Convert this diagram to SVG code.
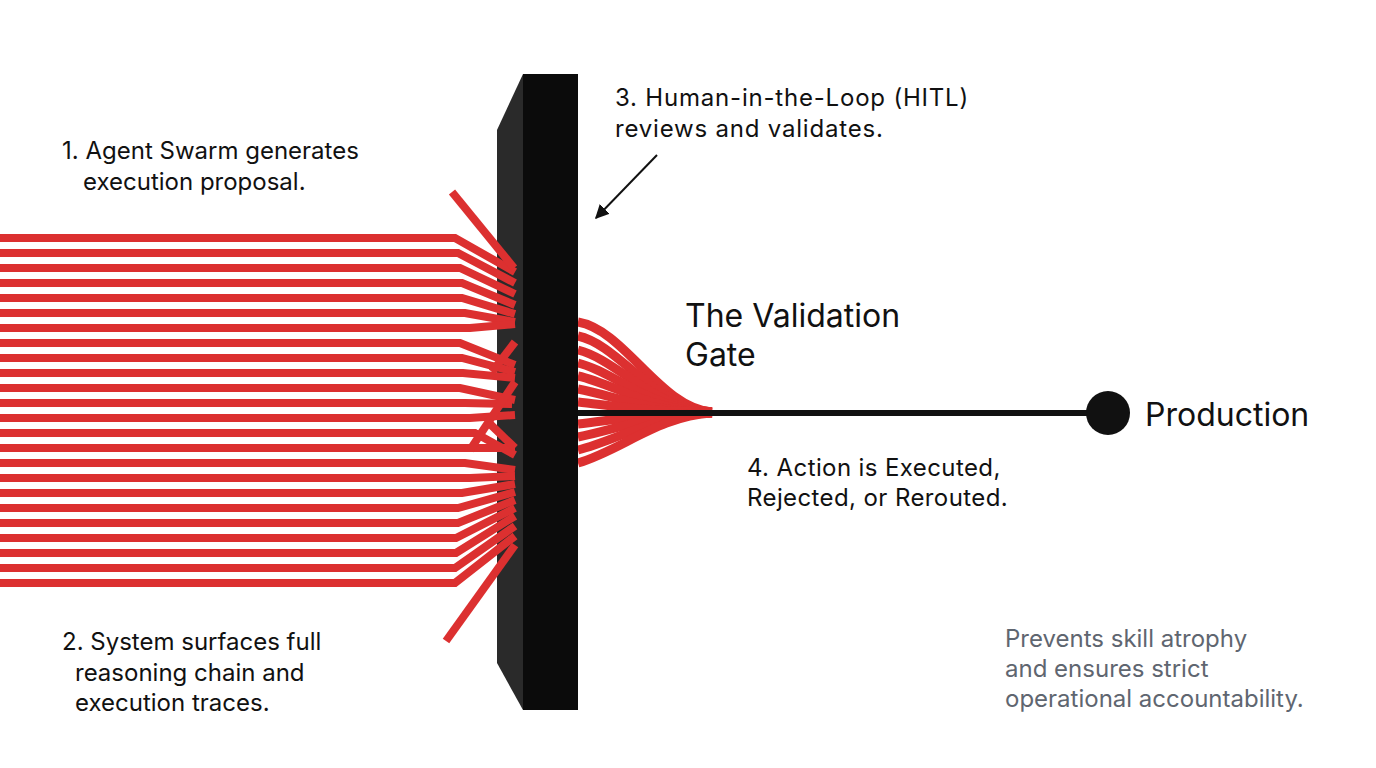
<svg xmlns="http://www.w3.org/2000/svg" width="1376" height="768" viewBox="0 0 1376 768">
<style>
text{font-family:Inter,"Noto Sans","Liberation Sans",sans-serif;fill:#111}
.t{font-size:24px}
.h{font-size:32px}
.g{font-size:24px;fill:#5f6670}
.r{fill:none;stroke:#dc3030;stroke-width:8;stroke-linejoin:miter;stroke-linecap:butt}
.f{fill:none;stroke:#dc3030;stroke-width:9}
</style>
<defs>
<marker id="ah" viewBox="0 0 10 10" refX="9" refY="5" markerWidth="7" markerHeight="7" orient="auto" markerUnits="strokeWidth">
<path d="M0,0 L10,5 L0,10 z" fill="#111"/>
</marker>
</defs>
<rect width="1376" height="768" fill="#fff"/>
<g id="gate-side">
<polygon points="497,130 523,74 523,710 497,663" fill="#2a2a2a"/>
</g>
<g id="connectors">
<g id="input-lines">
<polyline class="r" points="0,238 455,238 515,272"/>
<polyline class="r" points="0,253 458,253 515,283"/>
<polyline class="r" points="0,268 460,268 515,294"/>
<polyline class="r" points="0,283 462,283 515,305"/>
<polyline class="r" points="0,298 462,298 515,314"/>
<polyline class="r" points="0,313 465,313 515,322"/>
<polyline class="r" points="0,328 470,328 515,324"/>
<polyline class="r" points="0,343 460,343 515,365"/>
<polyline class="r" points="0,358 462,358 515,372"/>
<polyline class="r" points="0,373 463,373 515,378"/>
<polyline class="r" points="0,388 460,388 515,400"/>
<polyline class="r" points="0,403 465,403 512,404"/>
<polyline class="r" points="0,418 470,418 515,415"/>
<polyline class="r" points="0,433 475,433 515,455"/>
<polyline class="r" points="0,448 515,448"/>
<polyline class="r" points="0,463 465,463 515,470"/>
<polyline class="r" points="0,478 470,478 515,476"/>
<polyline class="r" points="0,493 462,493 515,484"/>
<polyline class="r" points="0,508 458,508 515,492"/>
<polyline class="r" points="0,523 458,523 515,500"/>
<polyline class="r" points="0,538 456,538 515,508"/>
<polyline class="r" points="0,553 456,553 515,516"/>
<polyline class="r" points="0,568 455,568 515,526"/>
<polyline class="r" points="0,583 455,583 515,536"/>
<line class="r" x1="452" y1="192" x2="514" y2="268"/>
<line class="r" x1="446" y1="641" x2="515" y2="545"/>
<line class="r" x1="492" y1="372" x2="515" y2="342"/>
<line class="r" x1="470" y1="450" x2="515" y2="382"/>
<line class="r" x1="488" y1="422" x2="515" y2="448"/>
</g>
<g id="output-fan">
<path class="f" d="M578,322 C625,330 660,408 712,412"/>
<path class="f" d="M578,336 C620,345 655,409 712,412"/>
<path class="f" d="M578,350 C618,360 655,410 712,412"/>
<path class="f" d="M578,363 C615,372 650,410 712,412"/>
<path class="f" d="M578,376 C615,384 650,411 712,412"/>
<path class="f" d="M578,389 C615,396 650,412 712,412"/>
<path class="f" d="M578,402 C615,406 650,412 712,412"/>
<path class="f" d="M578,424 C615,420 650,413 712,413"/>
<path class="f" d="M578,437 C615,430 650,414 712,413"/>
<path class="f" d="M578,450 C618,440 655,415 712,413"/>
<path class="f" d="M578,463 C622,450 658,416 712,413"/>
</g>
<line id="to-production" x1="578" y1="413" x2="1092" y2="413" stroke="#111" stroke-width="6"/>
<line id="hitl-arrow" x1="657" y1="155" x2="596" y2="218" stroke="#111" stroke-width="2" marker-end="url(#ah)"/>
</g>
<g id="gate-front">
<rect x="523" y="74" width="55" height="636" fill="#0b0b0b"/>
</g>
<g id="production">
<circle cx="1108" cy="413" r="22" fill="#111"/>
<text class="h" x="1145" y="426">Production</text>
</g>
<g id="label-gate">
<text class="h" x="685" y="327">The Validation</text>
<text class="h" x="685" y="366">Gate</text>
</g>
<g id="label-1">
<text class="t" x="62" y="159">1. Agent Swarm generates</text>
<text class="t" x="83" y="190">execution proposal.</text>
</g>
<g id="label-2">
<text class="t" x="62" y="650">2. System surfaces full</text>
<text class="t" x="75" y="681">reasoning chain and</text>
<text class="t" x="75" y="711">execution traces.</text>
</g>
<g id="label-3">
<text class="t" x="615" y="106" letter-spacing="0.8">3. Human-in-the-Loop (HITL)</text>
<text class="t" x="615" y="137" letter-spacing="0.8">reviews and validates.</text>
</g>
<g id="label-4">
<text class="t" x="747" y="476" letter-spacing="0.4">4. Action is Executed,</text>
<text class="t" x="747" y="506" letter-spacing="0.4">Rejected, or Rerouted.</text>
</g>
<g id="note">
<text class="g" x="1005" y="647">Prevents skill atrophy</text>
<text class="g" x="1005" y="677">and ensures strict</text>
<text class="g" x="1005" y="707">operational accountability.</text>
</g>
</svg>
